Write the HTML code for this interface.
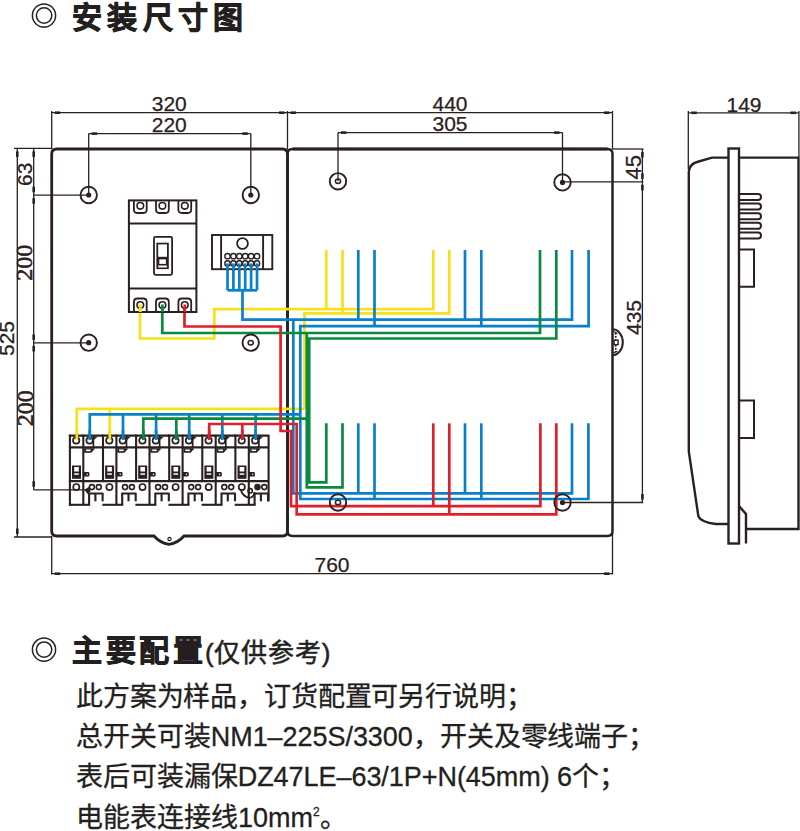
<!DOCTYPE html>
<html lang="zh-CN"><head><meta charset="utf-8"><title>安装尺寸图</title>
<style>
html,body{margin:0;padding:0;background:#fff;}
body{width:800px;height:831px;position:relative;overflow:hidden;font-family:"Liberation Sans",sans-serif;color:#231f20;}
svg.d{position:absolute;left:0;top:0;}
.h{position:absolute;font-weight:900;-webkit-text-stroke:0.8px #231f20;white-space:nowrap;line-height:1;}
.p{position:absolute;font-weight:500;-webkit-text-stroke:0.5px #231f20;white-space:nowrap;line-height:1;}
.t{position:absolute;left:76px;font-size:27px;font-weight:500;-webkit-text-stroke:0.3px #231f20;line-height:1;white-space:nowrap;color:#231f20;}
</style></head>
<body>
<div class="h" style="left:72px;top:3px;font-size:30px;letter-spacing:5.3px">安装尺寸图</div>
<svg class="d" width="800" height="831" viewBox="0 0 800 831">
<path d="M287.5,531.0 L287.5,154.0 Q287.5,149.0 282.5,149.0 L56.7,149.0 Q51.7,149.0 51.7,154.0 L51.7,531.0 Q51.7,536.0 56.7,536.0 L154,536.0 Q160,543.0 169,544.3 Q178,543.0 184,536.0 L282.5,536.0 Q287.5,536.0 287.5,531.0 Z" fill="none" stroke="#2a2020" stroke-width="2.8"/>
<path d="M287.5,531.0 L287.5,154.0 Q287.5,149.0 292.5,149.0 L607.5,149.0 Q612.5,149.0 612.5,154.0 L612.5,531.0 Q612.5,536.0 607.5,536.0 L292.5,536.0 Q287.5,536.0 287.5,531.0 Z" fill="none" stroke="#2a2020" stroke-width="2.5"/>
<line x1="292.5" y1="149.0" x2="607.5" y2="149.0" stroke="#2a2020" stroke-width="2.9"/>
<circle cx="169.5" cy="539" r="1.6" fill="none" stroke="#2a2020" stroke-width="1.2"/>
<path d="M612.5,329.3 A10.3,13 0 0 1 612.5,355.3" fill="none" stroke="#2a2020" stroke-width="2"/>
<line x1="615.7" y1="333" x2="615.7" y2="352.5" stroke="#2a2020" stroke-width="1.7" stroke-dasharray="1.7 1.3"/>
<rect x="614.1" y="340.2" width="4" height="4.4" fill="#fff" stroke="#2a2020" stroke-width="1.4"/>
<path d="M613.5,331.5 L617.5,333.5 M613.5,353 L617.5,351" stroke="#2a2020" stroke-width="1.2"/>
<line x1="51.7" y1="112.7" x2="612.5" y2="112.7" stroke="#2a2020" stroke-width="1.3"/>
<line x1="51.7" y1="111" x2="51.7" y2="149.0" stroke="#2a2020" stroke-width="1.3"/>
<line x1="287.5" y1="111" x2="287.5" y2="149.0" stroke="#2a2020" stroke-width="1.3"/>
<line x1="612.5" y1="111" x2="612.5" y2="149.0" stroke="#2a2020" stroke-width="1.3"/>
<rect x="54.7" y="111.4" width="5.5" height="2.6" fill="#2a2020"/>
<rect x="279.0" y="111.4" width="5.5" height="2.6" fill="#2a2020"/>
<rect x="290.5" y="111.4" width="5.5" height="2.6" fill="#2a2020"/>
<rect x="604.0" y="111.4" width="5.5" height="2.6" fill="#2a2020"/>
<text x="169.3" y="110.6" font-family="Liberation Sans" font-size="21" text-anchor="middle" fill="#2a2020" stroke="#2a2020" stroke-width="0.25">320</text>
<text x="450" y="110.9" font-family="Liberation Sans" font-size="21" text-anchor="middle" fill="#2a2020" stroke="#2a2020" stroke-width="0.25">440</text>
<line x1="88.7" y1="133.6" x2="250.8" y2="133.6" stroke="#2a2020" stroke-width="1.3"/>
<line x1="88.7" y1="133.6" x2="88.7" y2="195" stroke="#2a2020" stroke-width="1.3"/>
<line x1="250.8" y1="133.6" x2="250.8" y2="195" stroke="#2a2020" stroke-width="1.3"/>
<rect x="91.7" y="132.29999999999998" width="5.5" height="2.6" fill="#2a2020"/>
<rect x="242.3" y="132.29999999999998" width="5.5" height="2.6" fill="#2a2020"/>
<text x="169.3" y="132.4" font-family="Liberation Sans" font-size="21" text-anchor="middle" fill="#2a2020" stroke="#2a2020" stroke-width="0.25">220</text>
<line x1="338" y1="132.6" x2="562.5" y2="132.6" stroke="#2a2020" stroke-width="1.3"/>
<line x1="338" y1="132.6" x2="338" y2="181.3" stroke="#2a2020" stroke-width="1.3"/>
<line x1="562.5" y1="132.6" x2="562.5" y2="182.4" stroke="#2a2020" stroke-width="1.3"/>
<rect x="341" y="131.29999999999998" width="5.5" height="2.6" fill="#2a2020"/>
<rect x="554.0" y="131.29999999999998" width="5.5" height="2.6" fill="#2a2020"/>
<text x="450" y="131.3" font-family="Liberation Sans" font-size="21" text-anchor="middle" fill="#2a2020" stroke="#2a2020" stroke-width="0.25">305</text>
<line x1="688.3" y1="112.8" x2="798.9" y2="112.8" stroke="#2a2020" stroke-width="1.3"/>
<line x1="688.3" y1="111" x2="688.3" y2="169.5" stroke="#2a2020" stroke-width="1.3"/>
<line x1="798.9" y1="111" x2="798.9" y2="157" stroke="#2a2020" stroke-width="1.3"/>
<rect x="691.3" y="111.5" width="5.5" height="2.6" fill="#2a2020"/>
<rect x="790.4" y="111.5" width="5.5" height="2.6" fill="#2a2020"/>
<text x="744" y="111.6" font-family="Liberation Sans" font-size="21" text-anchor="middle" fill="#2a2020" stroke="#2a2020" stroke-width="0.25">149</text>
<line x1="51.7" y1="573.7" x2="612.5" y2="573.7" stroke="#2a2020" stroke-width="1.3"/>
<line x1="51.7" y1="536.0" x2="51.7" y2="574.4" stroke="#2a2020" stroke-width="1.3"/>
<line x1="612.5" y1="532.0" x2="612.5" y2="574.4" stroke="#2a2020" stroke-width="1.3"/>
<rect x="54.7" y="572.4000000000001" width="5.5" height="2.6" fill="#2a2020"/>
<rect x="604.0" y="572.4000000000001" width="5.5" height="2.6" fill="#2a2020"/>
<text x="332" y="571.9" font-family="Liberation Sans" font-size="21" text-anchor="middle" fill="#2a2020" stroke="#2a2020" stroke-width="0.25">760</text>
<line x1="17.3" y1="149.0" x2="17.3" y2="537" stroke="#2a2020" stroke-width="1.3"/>
<line x1="14" y1="148.4" x2="51.7" y2="148.4" stroke="#2a2020" stroke-width="1.3"/>
<line x1="14" y1="537" x2="51.7" y2="537" stroke="#2a2020" stroke-width="1.3"/>
<rect x="16.0" y="151.4" width="2.6" height="5.5" fill="#2a2020"/>
<rect x="16.0" y="528.5" width="2.6" height="5.5" fill="#2a2020"/>
<text x="14.4" y="338.5" font-family="Liberation Sans" font-size="21" text-anchor="middle" fill="#2a2020" stroke="#2a2020" stroke-width="0.25" transform="rotate(-90 14.4 338.5)">525</text>
<line x1="33.7" y1="149.0" x2="33.7" y2="490" stroke="#2a2020" stroke-width="1.3"/>
<line x1="33.7" y1="195.2" x2="88.7" y2="195.2" stroke="#2a2020" stroke-width="1.3"/>
<line x1="33.7" y1="342.9" x2="88.7" y2="342.9" stroke="#2a2020" stroke-width="1.3"/>
<line x1="33.7" y1="489.8" x2="86" y2="489.8" stroke="#2a2020" stroke-width="1.3"/>
<rect x="32.400000000000006" y="151.4" width="2.6" height="5.5" fill="#2a2020"/>
<rect x="32.400000000000006" y="186.7" width="2.6" height="5.5" fill="#2a2020"/>
<rect x="32.400000000000006" y="198.2" width="2.6" height="5.5" fill="#2a2020"/>
<rect x="32.400000000000006" y="334.4" width="2.6" height="5.5" fill="#2a2020"/>
<rect x="32.400000000000006" y="345.9" width="2.6" height="5.5" fill="#2a2020"/>
<rect x="32.400000000000006" y="481.3" width="2.6" height="5.5" fill="#2a2020"/>
<text x="32.4" y="174.3" font-family="Liberation Sans" font-size="21" text-anchor="middle" fill="#2a2020" stroke="#2a2020" stroke-width="0.25" transform="rotate(-90 32.4 174.3)">63</text>
<text x="32.2" y="262.7" font-family="Liberation Serif" font-size="24" text-anchor="middle" fill="#2a2020" stroke="#2a2020" stroke-width="0.55" transform="rotate(-90 32.2 262.7)">200</text>
<text x="32.6" y="408.3" font-family="Liberation Serif" font-size="24" text-anchor="middle" fill="#2a2020" stroke="#2a2020" stroke-width="0.55" transform="rotate(-90 32.6 408.3)">200</text>
<line x1="642.4" y1="149.0" x2="642.4" y2="502.5" stroke="#2a2020" stroke-width="1.3"/>
<line x1="612.5" y1="149.0" x2="643.5" y2="149.0" stroke="#2a2020" stroke-width="1.3"/>
<line x1="562.5" y1="181.8" x2="643.2" y2="181.8" stroke="#2a2020" stroke-width="1.3"/>
<line x1="562.5" y1="502.5" x2="643.2" y2="502.5" stroke="#2a2020" stroke-width="1.3"/>
<rect x="641.1" y="152.0" width="2.6" height="5.5" fill="#2a2020"/>
<rect x="641.1" y="173.3" width="2.6" height="5.5" fill="#2a2020"/>
<rect x="641.1" y="184.8" width="2.6" height="5.5" fill="#2a2020"/>
<rect x="641.1" y="494.0" width="2.6" height="5.5" fill="#2a2020"/>
<text x="641.4" y="167.3" font-family="Liberation Sans" font-size="22" text-anchor="middle" fill="#2a2020" stroke="#2a2020" stroke-width="0.25" transform="rotate(-90 641.4 167.3)">45</text>
<text x="640.9" y="317.5" font-family="Liberation Sans" font-size="21" text-anchor="middle" fill="#2a2020" stroke="#2a2020" stroke-width="0.25" transform="rotate(-90 640.9 317.5)">435</text>
<polyline points="140,304 140,338.5 214.3,338.5 214.3,309.2 433.3,309.2 433.3,250" fill="none" stroke="#f6e11a" stroke-width="2.7" stroke-linejoin="miter"/>
<polyline points="326.3,309.2 326.3,250" fill="none" stroke="#f6e11a" stroke-width="2.7" stroke-linejoin="miter"/>
<polyline points="304.5,408.9 304.5,313.4 449.3,313.4 449.3,250" fill="none" stroke="#f6e11a" stroke-width="2.7" stroke-linejoin="miter"/>
<polyline points="342.5,313.4 342.5,250" fill="none" stroke="#f6e11a" stroke-width="2.7" stroke-linejoin="miter"/>
<polyline points="76.8,440 76.8,408.9 304.5,408.9" fill="none" stroke="#f6e11a" stroke-width="2.7" stroke-linejoin="miter"/>
<polyline points="109.8,408.9 109.8,440" fill="none" stroke="#f6e11a" stroke-width="2.7" stroke-linejoin="miter"/>
<polyline points="242.5,290 242.5,319.6 572,319.6 572,250" fill="none" stroke="#0a80c8" stroke-width="2.7" stroke-linejoin="miter"/>
<polyline points="358.3,319.6 358.3,250" fill="none" stroke="#0a80c8" stroke-width="2.7" stroke-linejoin="miter"/>
<polyline points="465,319.6 465,250" fill="none" stroke="#0a80c8" stroke-width="2.7" stroke-linejoin="miter"/>
<polyline points="300.3,414.3 300.3,326.2 588.6,326.2 588.6,250" fill="none" stroke="#0a80c8" stroke-width="2.7" stroke-linejoin="miter"/>
<polyline points="374.5,326.2 374.5,250" fill="none" stroke="#0a80c8" stroke-width="2.7" stroke-linejoin="miter"/>
<polyline points="481.3,326.2 481.3,250" fill="none" stroke="#0a80c8" stroke-width="2.7" stroke-linejoin="miter"/>
<polyline points="293.3,319.6 293.3,493.3 572,493.3 572,423.3" fill="none" stroke="#0a80c8" stroke-width="2.7" stroke-linejoin="miter"/>
<polyline points="358.3,493.3 358.3,423.3" fill="none" stroke="#0a80c8" stroke-width="2.7" stroke-linejoin="miter"/>
<polyline points="465,493.3 465,423.3" fill="none" stroke="#0a80c8" stroke-width="2.7" stroke-linejoin="miter"/>
<polyline points="300.3,414.3 300.3,499 588.4,499 588.4,423.3" fill="none" stroke="#0a80c8" stroke-width="2.7" stroke-linejoin="miter"/>
<polyline points="374.5,499 374.5,423.3" fill="none" stroke="#0a80c8" stroke-width="2.7" stroke-linejoin="miter"/>
<polyline points="481.3,499 481.3,423.3" fill="none" stroke="#0a80c8" stroke-width="2.7" stroke-linejoin="miter"/>
<polyline points="89.8,440 89.8,414.3 300.3,414.3" fill="none" stroke="#0a80c8" stroke-width="2.7" stroke-linejoin="miter"/>
<polyline points="123,414.3 123,440" fill="none" stroke="#0a80c8" stroke-width="2.7" stroke-linejoin="miter"/>
<polyline points="156.1,414.3 156.1,440" fill="none" stroke="#0a80c8" stroke-width="2.7" stroke-linejoin="miter"/>
<polyline points="189.2,414.3 189.2,440" fill="none" stroke="#0a80c8" stroke-width="2.7" stroke-linejoin="miter"/>
<polyline points="222.3,414.3 222.3,440" fill="none" stroke="#0a80c8" stroke-width="2.7" stroke-linejoin="miter"/>
<polyline points="255.6,414.3 255.6,440" fill="none" stroke="#0a80c8" stroke-width="2.7" stroke-linejoin="miter"/>
<polyline points="162.3,304 162.3,333 540,333 540,250" fill="none" stroke="#0a8a3e" stroke-width="2.7" stroke-linejoin="miter"/>
<polyline points="556.3,250 556.3,338.5 309.2,338.5 309.2,482.3 326.3,482.3 326.3,423.3" fill="none" stroke="#0a8a3e" stroke-width="2.7" stroke-linejoin="miter"/>
<polyline points="306.8,333 306.8,487.4 342.5,487.4 342.5,423.3" fill="none" stroke="#0a8a3e" stroke-width="2.7" stroke-linejoin="miter"/>
<polyline points="143.3,440 143.3,418.6 308,418.6" fill="none" stroke="#0a8a3e" stroke-width="2.7" stroke-linejoin="miter"/>
<polyline points="176.3,418.6 176.3,440" fill="none" stroke="#0a8a3e" stroke-width="2.7" stroke-linejoin="miter"/>
<polyline points="184.5,304 184.5,326.5 280.6,326.5 280.6,431 291,431 291,506.1 540.4,506.1 540.4,423.3" fill="none" stroke="#df1f29" stroke-width="2.7" stroke-linejoin="miter"/>
<polyline points="433.3,506.1 433.3,423.3" fill="none" stroke="#df1f29" stroke-width="2.7" stroke-linejoin="miter"/>
<polyline points="209.2,440 209.2,424 296.7,424 296.7,514.4 556.3,514.4 556.3,423.3" fill="none" stroke="#df1f29" stroke-width="2.7" stroke-linejoin="miter"/>
<polyline points="449.3,514.4 449.3,423.3" fill="none" stroke="#df1f29" stroke-width="2.7" stroke-linejoin="miter"/>
<polyline points="242.3,424 242.3,440" fill="none" stroke="#df1f29" stroke-width="2.7" stroke-linejoin="miter"/>
<polyline points="227.5,262 227.5,290.3" fill="none" stroke="#0a80c8" stroke-width="2.7" stroke-linejoin="miter"/>
<polyline points="233.4,262 233.4,290.3" fill="none" stroke="#0a80c8" stroke-width="2.7" stroke-linejoin="miter"/>
<polyline points="239.3,262 239.3,290.3" fill="none" stroke="#0a80c8" stroke-width="2.7" stroke-linejoin="miter"/>
<polyline points="245.2,262 245.2,290.3" fill="none" stroke="#0a80c8" stroke-width="2.7" stroke-linejoin="miter"/>
<polyline points="251.1,262 251.1,290.3" fill="none" stroke="#0a80c8" stroke-width="2.7" stroke-linejoin="miter"/>
<polyline points="257.0,262 257.0,290.3" fill="none" stroke="#0a80c8" stroke-width="2.7" stroke-linejoin="miter"/>
<polyline points="227.5,290.3 257,290.3" fill="none" stroke="#0a80c8" stroke-width="2.7" stroke-linejoin="miter"/>
<circle cx="88.7" cy="195" r="8.2" fill="none" stroke="#2a2020" stroke-width="1.9"/>
<circle cx="88.7" cy="195" r="2.6" fill="#2a2020"/>
<circle cx="250.8" cy="195" r="8.2" fill="none" stroke="#2a2020" stroke-width="1.9"/>
<circle cx="250.8" cy="195" r="2.6" fill="#2a2020"/>
<circle cx="88.7" cy="342.7" r="8.2" fill="none" stroke="#2a2020" stroke-width="1.9"/>
<circle cx="88.7" cy="342.7" r="2.6" fill="#2a2020"/>
<circle cx="250.7" cy="342.7" r="8.2" fill="none" stroke="#2a2020" stroke-width="1.9"/>
<ellipse cx="250.7" cy="342.7" rx="2.6" ry="2.2" fill="none" stroke="#2a2020" stroke-width="1.5"/>
<circle cx="338" cy="181.3" r="8.2" fill="none" stroke="#2a2020" stroke-width="1.9"/>
<ellipse cx="338" cy="181.3" rx="2.6" ry="2.2" fill="none" stroke="#2a2020" stroke-width="1.5"/>
<circle cx="562.5" cy="182.4" r="8.2" fill="none" stroke="#2a2020" stroke-width="1.9"/>
<circle cx="562.5" cy="182.4" r="2.6" fill="#2a2020"/>
<circle cx="338" cy="502.5" r="8.2" fill="none" stroke="#2a2020" stroke-width="1.9"/>
<ellipse cx="338" cy="502.5" rx="2.6" ry="2.2" fill="none" stroke="#2a2020" stroke-width="1.5"/>
<circle cx="562.5" cy="502.5" r="8.2" fill="none" stroke="#2a2020" stroke-width="1.9"/>
<circle cx="562.5" cy="502.5" r="2.6" fill="#2a2020"/>
<rect x="128.9" y="200.4" width="67.5" height="111.6" fill="none" stroke="#2a2020" stroke-width="2"/>
<line x1="128.9" y1="223.6" x2="196.4" y2="223.6" stroke="#2a2020" stroke-width="2"/>
<line x1="128.9" y1="288.4" x2="196.4" y2="288.4" stroke="#2a2020" stroke-width="2"/>
<path d="M133.9,200.4 L133.9,209.5 Q133.9,213 137.3,213 L143.3,213 Q146.70000000000002,213 146.70000000000002,209.5 L146.70000000000002,200.4" fill="none" stroke="#2a2020" stroke-width="1.8"/>
<circle cx="140.3" cy="205.8" r="3.3" fill="none" stroke="#2a2020" stroke-width="1.6"/>
<path d="M133.9,312 L133.9,302 Q133.9,298.5 137.3,298.5 L143.3,298.5 Q146.70000000000002,298.5 146.70000000000002,302 L146.70000000000002,312" fill="none" stroke="#2a2020" stroke-width="1.8"/>
<circle cx="140.3" cy="305" r="3.3" fill="#fff" stroke="#2a2020" stroke-width="1.6"/>
<path d="M156.0,200.4 L156.0,209.5 Q156.0,213 159.4,213 L165.4,213 Q168.8,213 168.8,209.5 L168.8,200.4" fill="none" stroke="#2a2020" stroke-width="1.8"/>
<circle cx="162.4" cy="205.8" r="3.3" fill="none" stroke="#2a2020" stroke-width="1.6"/>
<path d="M156.0,312 L156.0,302 Q156.0,298.5 159.4,298.5 L165.4,298.5 Q168.8,298.5 168.8,302 L168.8,312" fill="none" stroke="#2a2020" stroke-width="1.8"/>
<circle cx="162.4" cy="305" r="3.3" fill="#fff" stroke="#2a2020" stroke-width="1.6"/>
<path d="M178.4,200.4 L178.4,209.5 Q178.4,213 181.8,213 L187.8,213 Q191.20000000000002,213 191.20000000000002,209.5 L191.20000000000002,200.4" fill="none" stroke="#2a2020" stroke-width="1.8"/>
<circle cx="184.8" cy="205.8" r="3.3" fill="none" stroke="#2a2020" stroke-width="1.6"/>
<path d="M178.4,312 L178.4,302 Q178.4,298.5 181.8,298.5 L187.8,298.5 Q191.20000000000002,298.5 191.20000000000002,302 L191.20000000000002,312" fill="none" stroke="#2a2020" stroke-width="1.8"/>
<circle cx="184.8" cy="305" r="3.3" fill="#fff" stroke="#2a2020" stroke-width="1.6"/>
<rect x="154" y="236.8" width="18.1" height="38" rx="1.5" fill="none" stroke="#2a2020" stroke-width="1.8"/>
<rect x="156.4" y="242.7" width="12.4" height="26.4" fill="#2a2020"/>
<rect x="158.2" y="244.4" width="8.8" height="12.4" fill="#fff"/>
<rect x="159.3" y="259.4" width="6.6" height="4.5" fill="#fff"/>
<rect x="158.3" y="265.5" width="8.6" height="2" fill="#fff"/>
<polyline points="140.3,304.5 140.3,312" fill="none" stroke="#f6e11a" stroke-width="2.7" stroke-linejoin="miter"/>
<polyline points="162.4,304.5 162.4,312" fill="none" stroke="#0a8a3e" stroke-width="2.7" stroke-linejoin="miter"/>
<polyline points="184.8,304.5 184.8,312" fill="none" stroke="#df1f29" stroke-width="2.7" stroke-linejoin="miter"/>
<rect x="212" y="235" width="60.3" height="34.2" fill="#fff" stroke="#2a2020" stroke-width="1.9"/>
<line x1="221.1" y1="235" x2="221.1" y2="269.2" stroke="#2a2020" stroke-width="1.9"/>
<line x1="263.1" y1="235" x2="263.1" y2="269.2" stroke="#2a2020" stroke-width="1.9"/>
<circle cx="242.5" cy="243.5" r="5.4" fill="none" stroke="#2a2020" stroke-width="1.8"/>
<circle cx="227.5" cy="256.2" r="2.7" fill="#fff" stroke="#2a2020" stroke-width="1.4"/>
<circle cx="227.5" cy="263.4" r="2.7" fill="#fff" stroke="#2a2020" stroke-width="1.4"/>
<circle cx="233.4" cy="256.2" r="2.7" fill="#fff" stroke="#2a2020" stroke-width="1.4"/>
<circle cx="233.4" cy="263.4" r="2.7" fill="#fff" stroke="#2a2020" stroke-width="1.4"/>
<circle cx="239.3" cy="256.2" r="2.7" fill="#fff" stroke="#2a2020" stroke-width="1.4"/>
<circle cx="239.3" cy="263.4" r="2.7" fill="#fff" stroke="#2a2020" stroke-width="1.4"/>
<circle cx="245.2" cy="256.2" r="2.7" fill="#fff" stroke="#2a2020" stroke-width="1.4"/>
<circle cx="245.2" cy="263.4" r="2.7" fill="#fff" stroke="#2a2020" stroke-width="1.4"/>
<circle cx="251.1" cy="256.2" r="2.7" fill="#fff" stroke="#2a2020" stroke-width="1.4"/>
<circle cx="251.1" cy="263.4" r="2.7" fill="#fff" stroke="#2a2020" stroke-width="1.4"/>
<circle cx="257.0" cy="256.2" r="2.7" fill="#fff" stroke="#2a2020" stroke-width="1.4"/>
<circle cx="257.0" cy="263.4" r="2.7" fill="#fff" stroke="#2a2020" stroke-width="1.4"/>
<polyline points="227.5,263.4 227.5,270" fill="none" stroke="#0a80c8" stroke-width="2.7" stroke-linejoin="miter"/>
<polyline points="233.4,263.4 233.4,270" fill="none" stroke="#0a80c8" stroke-width="2.7" stroke-linejoin="miter"/>
<polyline points="239.3,263.4 239.3,270" fill="none" stroke="#0a80c8" stroke-width="2.7" stroke-linejoin="miter"/>
<polyline points="245.2,263.4 245.2,270" fill="none" stroke="#0a80c8" stroke-width="2.7" stroke-linejoin="miter"/>
<polyline points="251.1,263.4 251.1,270" fill="none" stroke="#0a80c8" stroke-width="2.7" stroke-linejoin="miter"/>
<polyline points="257.0,263.4 257.0,270" fill="none" stroke="#0a80c8" stroke-width="2.7" stroke-linejoin="miter"/>
<g transform="translate(69.20 434.7)"><line x1="0.7" y1="0" x2="0.7" y2="46.4" stroke="#2a2020" stroke-width="2.1"/><line x1="-0.4" y1="1" x2="33.6" y2="1" stroke="#2a2020" stroke-width="2.2"/><line x1="14.1" y1="0" x2="14.1" y2="70.1" stroke="#2a2020" stroke-width="2.1"/><line x1="0" y1="12.6" x2="33.6" y2="12.6" stroke="#2a2020" stroke-width="2.2"/><line x1="0" y1="46.4" x2="33.6" y2="46.4" stroke="#2a2020" stroke-width="2.2"/><circle cx="7" cy="5.8" r="3.2" fill="#fff" stroke="#2a2020" stroke-width="1.7"/><circle cx="20.4" cy="5.8" r="3.2" fill="#fff" stroke="#2a2020" stroke-width="1.7"/><line x1="24.2" y1="1" x2="24.2" y2="12.6" stroke="#2a2020" stroke-width="1.7"/><path d="M24.2,2 L28.5,2 L24.2,5.5 Z" fill="#2a2020"/><path d="M15,13.6 L25.2,13.6 L25.2,14.6 L22.1,18.1 L15,18.1 Z" fill="#2a2020"/><rect x="16.8" y="14.8" width="4.6" height="1.6" fill="#fff"/><rect x="2.8" y="30.8" width="9" height="13.3" fill="#2a2020"/><rect x="5" y="32.3" width="4.6" height="4.5" fill="#fff"/><rect x="5" y="38.6" width="4.6" height="1.5" fill="#fff"/><rect x="13.6" y="37.4" width="6.6" height="4.4" rx="1.2" fill="#2a2020"/><circle cx="18" cy="39.5" r="0.7" fill="#fff"/><circle cx="7.1" cy="52.4" r="3.1" fill="#fff" stroke="#2a2020" stroke-width="1.7"/><circle cx="22.7" cy="52.4" r="2.5" fill="#fff" stroke="#2a2020" stroke-width="1.6"/><circle cx="29.6" cy="52.4" r="2.5" fill="#fff" stroke="#2a2020" stroke-width="1.6"/><path d="M19.9,70.1 L19.9,58.8 L34.2,58.8" fill="none" stroke="#2a2020" stroke-width="2.1"/><line x1="26.2" y1="58.8" x2="26.2" y2="66.6" stroke="#2a2020" stroke-width="2.1"/><line x1="33.4" y1="58.8" x2="33.4" y2="66.6" stroke="#2a2020" stroke-width="2.1"/><line x1="0" y1="70.1" x2="20.9" y2="70.1" stroke="#2a2020" stroke-width="2.1"/></g>
<g transform="translate(102.30 434.7)"><line x1="0.7" y1="0" x2="0.7" y2="46.4" stroke="#2a2020" stroke-width="2.1"/><line x1="-0.4" y1="1" x2="33.6" y2="1" stroke="#2a2020" stroke-width="2.2"/><line x1="14.1" y1="0" x2="14.1" y2="70.1" stroke="#2a2020" stroke-width="2.1"/><line x1="0" y1="12.6" x2="33.6" y2="12.6" stroke="#2a2020" stroke-width="2.2"/><line x1="0" y1="46.4" x2="33.6" y2="46.4" stroke="#2a2020" stroke-width="2.2"/><circle cx="7" cy="5.8" r="3.2" fill="#fff" stroke="#2a2020" stroke-width="1.7"/><circle cx="20.4" cy="5.8" r="3.2" fill="#fff" stroke="#2a2020" stroke-width="1.7"/><line x1="24.2" y1="1" x2="24.2" y2="12.6" stroke="#2a2020" stroke-width="1.7"/><path d="M24.2,2 L28.5,2 L24.2,5.5 Z" fill="#2a2020"/><path d="M15,13.6 L25.2,13.6 L25.2,14.6 L22.1,18.1 L15,18.1 Z" fill="#2a2020"/><rect x="16.8" y="14.8" width="4.6" height="1.6" fill="#fff"/><rect x="2.8" y="30.8" width="9" height="13.3" fill="#2a2020"/><rect x="5" y="32.3" width="4.6" height="4.5" fill="#fff"/><rect x="5" y="38.6" width="4.6" height="1.5" fill="#fff"/><rect x="13.6" y="37.4" width="6.6" height="4.4" rx="1.2" fill="#2a2020"/><circle cx="18" cy="39.5" r="0.7" fill="#fff"/><circle cx="7.1" cy="52.4" r="3.1" fill="#fff" stroke="#2a2020" stroke-width="1.7"/><circle cx="22.7" cy="52.4" r="2.5" fill="#fff" stroke="#2a2020" stroke-width="1.6"/><circle cx="29.6" cy="52.4" r="2.5" fill="#fff" stroke="#2a2020" stroke-width="1.6"/><path d="M19.9,70.1 L19.9,58.8 L34.2,58.8" fill="none" stroke="#2a2020" stroke-width="2.1"/><line x1="26.2" y1="58.8" x2="26.2" y2="66.6" stroke="#2a2020" stroke-width="2.1"/><line x1="33.4" y1="58.8" x2="33.4" y2="66.6" stroke="#2a2020" stroke-width="2.1"/><line x1="0" y1="70.1" x2="20.9" y2="70.1" stroke="#2a2020" stroke-width="2.1"/></g>
<g transform="translate(135.40 434.7)"><line x1="0.7" y1="0" x2="0.7" y2="46.4" stroke="#2a2020" stroke-width="2.1"/><line x1="-0.4" y1="1" x2="33.6" y2="1" stroke="#2a2020" stroke-width="2.2"/><line x1="14.1" y1="0" x2="14.1" y2="70.1" stroke="#2a2020" stroke-width="2.1"/><line x1="0" y1="12.6" x2="33.6" y2="12.6" stroke="#2a2020" stroke-width="2.2"/><line x1="0" y1="46.4" x2="33.6" y2="46.4" stroke="#2a2020" stroke-width="2.2"/><circle cx="7" cy="5.8" r="3.2" fill="#fff" stroke="#2a2020" stroke-width="1.7"/><circle cx="20.4" cy="5.8" r="3.2" fill="#fff" stroke="#2a2020" stroke-width="1.7"/><line x1="24.2" y1="1" x2="24.2" y2="12.6" stroke="#2a2020" stroke-width="1.7"/><path d="M24.2,2 L28.5,2 L24.2,5.5 Z" fill="#2a2020"/><path d="M15,13.6 L25.2,13.6 L25.2,14.6 L22.1,18.1 L15,18.1 Z" fill="#2a2020"/><rect x="16.8" y="14.8" width="4.6" height="1.6" fill="#fff"/><rect x="2.8" y="30.8" width="9" height="13.3" fill="#2a2020"/><rect x="5" y="32.3" width="4.6" height="4.5" fill="#fff"/><rect x="5" y="38.6" width="4.6" height="1.5" fill="#fff"/><rect x="13.6" y="37.4" width="6.6" height="4.4" rx="1.2" fill="#2a2020"/><circle cx="18" cy="39.5" r="0.7" fill="#fff"/><circle cx="7.1" cy="52.4" r="3.1" fill="#fff" stroke="#2a2020" stroke-width="1.7"/><circle cx="22.7" cy="52.4" r="2.5" fill="#fff" stroke="#2a2020" stroke-width="1.6"/><circle cx="29.6" cy="52.4" r="2.5" fill="#fff" stroke="#2a2020" stroke-width="1.6"/><path d="M19.9,70.1 L19.9,58.8 L34.2,58.8" fill="none" stroke="#2a2020" stroke-width="2.1"/><line x1="26.2" y1="58.8" x2="26.2" y2="66.6" stroke="#2a2020" stroke-width="2.1"/><line x1="33.4" y1="58.8" x2="33.4" y2="66.6" stroke="#2a2020" stroke-width="2.1"/><line x1="0" y1="70.1" x2="20.9" y2="70.1" stroke="#2a2020" stroke-width="2.1"/></g>
<g transform="translate(168.50 434.7)"><line x1="0.7" y1="0" x2="0.7" y2="46.4" stroke="#2a2020" stroke-width="2.1"/><line x1="-0.4" y1="1" x2="33.6" y2="1" stroke="#2a2020" stroke-width="2.2"/><line x1="14.1" y1="0" x2="14.1" y2="70.1" stroke="#2a2020" stroke-width="2.1"/><line x1="0" y1="12.6" x2="33.6" y2="12.6" stroke="#2a2020" stroke-width="2.2"/><line x1="0" y1="46.4" x2="33.6" y2="46.4" stroke="#2a2020" stroke-width="2.2"/><circle cx="7" cy="5.8" r="3.2" fill="#fff" stroke="#2a2020" stroke-width="1.7"/><circle cx="20.4" cy="5.8" r="3.2" fill="#fff" stroke="#2a2020" stroke-width="1.7"/><line x1="24.2" y1="1" x2="24.2" y2="12.6" stroke="#2a2020" stroke-width="1.7"/><path d="M24.2,2 L28.5,2 L24.2,5.5 Z" fill="#2a2020"/><path d="M15,13.6 L25.2,13.6 L25.2,14.6 L22.1,18.1 L15,18.1 Z" fill="#2a2020"/><rect x="16.8" y="14.8" width="4.6" height="1.6" fill="#fff"/><rect x="2.8" y="30.8" width="9" height="13.3" fill="#2a2020"/><rect x="5" y="32.3" width="4.6" height="4.5" fill="#fff"/><rect x="5" y="38.6" width="4.6" height="1.5" fill="#fff"/><rect x="13.6" y="37.4" width="6.6" height="4.4" rx="1.2" fill="#2a2020"/><circle cx="18" cy="39.5" r="0.7" fill="#fff"/><circle cx="7.1" cy="52.4" r="3.1" fill="#fff" stroke="#2a2020" stroke-width="1.7"/><circle cx="22.7" cy="52.4" r="2.5" fill="#fff" stroke="#2a2020" stroke-width="1.6"/><circle cx="29.6" cy="52.4" r="2.5" fill="#fff" stroke="#2a2020" stroke-width="1.6"/><path d="M19.9,70.1 L19.9,58.8 L34.2,58.8" fill="none" stroke="#2a2020" stroke-width="2.1"/><line x1="26.2" y1="58.8" x2="26.2" y2="66.6" stroke="#2a2020" stroke-width="2.1"/><line x1="33.4" y1="58.8" x2="33.4" y2="66.6" stroke="#2a2020" stroke-width="2.1"/><line x1="0" y1="70.1" x2="20.9" y2="70.1" stroke="#2a2020" stroke-width="2.1"/></g>
<g transform="translate(201.60 434.7)"><line x1="0.7" y1="0" x2="0.7" y2="46.4" stroke="#2a2020" stroke-width="2.1"/><line x1="-0.4" y1="1" x2="33.6" y2="1" stroke="#2a2020" stroke-width="2.2"/><line x1="14.1" y1="0" x2="14.1" y2="70.1" stroke="#2a2020" stroke-width="2.1"/><line x1="0" y1="12.6" x2="33.6" y2="12.6" stroke="#2a2020" stroke-width="2.2"/><line x1="0" y1="46.4" x2="33.6" y2="46.4" stroke="#2a2020" stroke-width="2.2"/><circle cx="7" cy="5.8" r="3.2" fill="#fff" stroke="#2a2020" stroke-width="1.7"/><circle cx="20.4" cy="5.8" r="3.2" fill="#fff" stroke="#2a2020" stroke-width="1.7"/><line x1="24.2" y1="1" x2="24.2" y2="12.6" stroke="#2a2020" stroke-width="1.7"/><path d="M24.2,2 L28.5,2 L24.2,5.5 Z" fill="#2a2020"/><path d="M15,13.6 L25.2,13.6 L25.2,14.6 L22.1,18.1 L15,18.1 Z" fill="#2a2020"/><rect x="16.8" y="14.8" width="4.6" height="1.6" fill="#fff"/><rect x="2.8" y="30.8" width="9" height="13.3" fill="#2a2020"/><rect x="5" y="32.3" width="4.6" height="4.5" fill="#fff"/><rect x="5" y="38.6" width="4.6" height="1.5" fill="#fff"/><rect x="13.6" y="37.4" width="6.6" height="4.4" rx="1.2" fill="#2a2020"/><circle cx="18" cy="39.5" r="0.7" fill="#fff"/><circle cx="7.1" cy="52.4" r="3.1" fill="#fff" stroke="#2a2020" stroke-width="1.7"/><circle cx="22.7" cy="52.4" r="2.5" fill="#fff" stroke="#2a2020" stroke-width="1.6"/><circle cx="29.6" cy="52.4" r="2.5" fill="#fff" stroke="#2a2020" stroke-width="1.6"/><path d="M19.9,70.1 L19.9,58.8 L34.2,58.8" fill="none" stroke="#2a2020" stroke-width="2.1"/><line x1="26.2" y1="58.8" x2="26.2" y2="66.6" stroke="#2a2020" stroke-width="2.1"/><line x1="33.4" y1="58.8" x2="33.4" y2="66.6" stroke="#2a2020" stroke-width="2.1"/><line x1="0" y1="70.1" x2="20.9" y2="70.1" stroke="#2a2020" stroke-width="2.1"/></g>
<g transform="translate(234.70 434.7)"><line x1="0.7" y1="0" x2="0.7" y2="46.4" stroke="#2a2020" stroke-width="2.1"/><line x1="-0.4" y1="1" x2="33.6" y2="1" stroke="#2a2020" stroke-width="2.2"/><line x1="14.1" y1="0" x2="14.1" y2="70.1" stroke="#2a2020" stroke-width="2.1"/><line x1="0" y1="12.6" x2="33.6" y2="12.6" stroke="#2a2020" stroke-width="2.2"/><line x1="0" y1="46.4" x2="33.6" y2="46.4" stroke="#2a2020" stroke-width="2.2"/><circle cx="7" cy="5.8" r="3.2" fill="#fff" stroke="#2a2020" stroke-width="1.7"/><circle cx="20.4" cy="5.8" r="3.2" fill="#fff" stroke="#2a2020" stroke-width="1.7"/><line x1="24.2" y1="1" x2="24.2" y2="12.6" stroke="#2a2020" stroke-width="1.7"/><path d="M24.2,2 L28.5,2 L24.2,5.5 Z" fill="#2a2020"/><path d="M15,13.6 L25.2,13.6 L25.2,14.6 L22.1,18.1 L15,18.1 Z" fill="#2a2020"/><rect x="16.8" y="14.8" width="4.6" height="1.6" fill="#fff"/><rect x="2.8" y="30.8" width="9" height="13.3" fill="#2a2020"/><rect x="5" y="32.3" width="4.6" height="4.5" fill="#fff"/><rect x="5" y="38.6" width="4.6" height="1.5" fill="#fff"/><rect x="13.6" y="37.4" width="6.6" height="4.4" rx="1.2" fill="#2a2020"/><circle cx="18" cy="39.5" r="0.7" fill="#fff"/><circle cx="7.1" cy="52.4" r="3.1" fill="#fff" stroke="#2a2020" stroke-width="1.7"/><circle cx="22.7" cy="52.4" r="2.5" fill="#fff" stroke="#2a2020" stroke-width="1.6"/><circle cx="29.6" cy="52.4" r="2.5" fill="#fff" stroke="#2a2020" stroke-width="1.6"/><path d="M19.9,70.1 L19.9,58.8 L34.2,58.8" fill="none" stroke="#2a2020" stroke-width="2.1"/><line x1="26.2" y1="58.8" x2="26.2" y2="66.6" stroke="#2a2020" stroke-width="2.1"/><line x1="33.4" y1="58.8" x2="33.4" y2="66.6" stroke="#2a2020" stroke-width="2.1"/><line x1="0" y1="70.1" x2="20.9" y2="70.1" stroke="#2a2020" stroke-width="2.1"/></g>
<line x1="268.6" y1="434.7" x2="268.6" y2="501.3" stroke="#2a2020" stroke-width="2.1"/>
<line x1="69.9" y1="480" x2="69.9" y2="505.8" stroke="#2a2020" stroke-width="2.1"/>
<path d="M84.5,489.8 L89.5,486.5 L90.5,491.5 L87.5,494 Z" fill="#2a2020"/>
<path d="M240.6,489 Q242.5,497 249.5,497.8 Q254,497.5 254.5,492" fill="none" stroke="#2a2020" stroke-width="1.8"/>
<circle cx="250.2" cy="490.8" r="2.2" fill="none" stroke="#2a2020" stroke-width="1.6"/>
<circle cx="257.8" cy="487.4" r="2.5" fill="#2a2020"/>
<polyline points="76.8,430 76.8,440" fill="none" stroke="#f6e11a" stroke-width="2.7" stroke-linejoin="miter"/>
<polyline points="109.8,430 109.8,440" fill="none" stroke="#f6e11a" stroke-width="2.7" stroke-linejoin="miter"/>
<polyline points="143.3,430 143.3,440" fill="none" stroke="#0a8a3e" stroke-width="2.7" stroke-linejoin="miter"/>
<polyline points="176.3,430 176.3,440" fill="none" stroke="#0a8a3e" stroke-width="2.7" stroke-linejoin="miter"/>
<polyline points="209.2,430 209.2,440" fill="none" stroke="#df1f29" stroke-width="2.7" stroke-linejoin="miter"/>
<polyline points="242.3,430 242.3,440" fill="none" stroke="#df1f29" stroke-width="2.7" stroke-linejoin="miter"/>
<polyline points="89.8,430 89.8,440" fill="none" stroke="#0a80c8" stroke-width="2.7" stroke-linejoin="miter"/>
<polyline points="123,430 123,440" fill="none" stroke="#0a80c8" stroke-width="2.7" stroke-linejoin="miter"/>
<polyline points="156.1,430 156.1,440" fill="none" stroke="#0a80c8" stroke-width="2.7" stroke-linejoin="miter"/>
<polyline points="189.2,430 189.2,440" fill="none" stroke="#0a80c8" stroke-width="2.7" stroke-linejoin="miter"/>
<polyline points="222.3,430 222.3,440" fill="none" stroke="#0a80c8" stroke-width="2.7" stroke-linejoin="miter"/>
<polyline points="255.6,430 255.6,440" fill="none" stroke="#0a80c8" stroke-width="2.7" stroke-linejoin="miter"/>
<path d="M688.8,172 Q689.5,164 697,162 L712,157.6 L728,157.6" fill="none" stroke="#2a2020" stroke-width="2.4"/>
<path d="M688.8,172 L688.8,451.5 L698.4,516.5 Q701,522 715.7,524 L728,524" fill="none" stroke="#2a2020" stroke-width="2.4"/>
<rect x="728.5" y="148.5" width="10.5" height="395" fill="none" stroke="#2a2020" stroke-width="2.4"/>
<path d="M739,157.6 L798.5,157.6 L798.5,529 L746,529" fill="none" stroke="#2a2020" stroke-width="2.4"/>
<path d="M739,506.1 L746,514 L746,543.5" fill="none" stroke="#2a2020" stroke-width="2.4"/>
<path d="M739,194.0 L758,194.0 A3,3 0 0 1 758,200.0 L739,200.0" fill="none" stroke="#2a2020" stroke-width="2"/>
<path d="M739,203.6 L758,203.6 A3,3 0 0 1 758,209.6 L739,209.6" fill="none" stroke="#2a2020" stroke-width="2"/>
<path d="M739,213.2 L758,213.2 A3,3 0 0 1 758,219.2 L739,219.2" fill="none" stroke="#2a2020" stroke-width="2"/>
<path d="M739,222.8 L758,222.8 A3,3 0 0 1 758,228.8 L739,228.8" fill="none" stroke="#2a2020" stroke-width="2"/>
<path d="M739,232.4 L758,232.4 A3,3 0 0 1 758,238.4 L739,238.4" fill="none" stroke="#2a2020" stroke-width="2"/>
<path d="M739,249.5 L754,249.5 L754,286.7 L739,286.7" fill="none" stroke="#2a2020" stroke-width="2"/>
<path d="M739,400.6 L754,400.6 L754,438 L739,438" fill="none" stroke="#2a2020" stroke-width="2"/>
<circle cx="44" cy="15.5" r="11.6" fill="none" stroke="#2a2020" stroke-width="1.5"/>
<circle cx="44.1" cy="15.5" r="7.7" fill="none" stroke="#2a2020" stroke-width="1.5"/>
<circle cx="44" cy="649.6" r="11.6" fill="none" stroke="#2a2020" stroke-width="1.5"/>
<circle cx="44.1" cy="649.6" r="7.7" fill="none" stroke="#2a2020" stroke-width="1.5"/>
</svg>
<div class="h" style="left:72px;top:636px;font-size:30px;letter-spacing:3.6px">主要配置</div><div class="p" style="left:205px;top:640px;font-size:26px;letter-spacing:0.8px">(仅供参考)</div>
<div class="t" style="top:684px;letter-spacing:-0.15px">此方案为样品，订货配置可另行说明；</div>
<div class="t" style="top:724px;letter-spacing:-0.05px">总开关可装NM1–225S/3300，开关及零线端子；</div>
<div class="t" style="top:764px;letter-spacing:-0.05px">表后可装漏保DZ47LE–63/1P+N(45mm) 6个；</div>
<div class="t" style="top:805px">电能表连接线10mm<sup style="font-size:12px;vertical-align:11px;letter-spacing:0">2</sup>。</div>
</body></html>
